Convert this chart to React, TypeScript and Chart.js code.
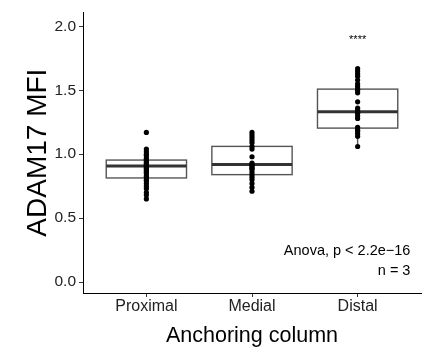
import React, { useEffect, useRef } from "react";
import { Chart, registerables } from "chart.js";

Chart.register(...registerables);

const categories = ["Proximal", "Medial", "Distal"];
const proximalValues = [1.17, 1.04, 1.02, 1.0, 0.99, 0.97, 0.96, 0.95, 0.94, 0.93, 0.92, 0.91, 0.9, 0.89, 0.88, 0.87, 0.86, 0.85, 0.83, 0.82, 0.8, 0.79, 0.77, 0.75, 0.73, 0.7, 0.68, 0.65];
const medialValues = [1.17, 1.15, 1.13, 1.11, 1.09, 1.06, 1.04, 0.98, 0.93, 0.92, 0.91, 0.9, 0.89, 0.88, 0.86, 0.84, 0.82, 0.8, 0.77, 0.74, 0.71];
const distalValues = [1.67, 1.65, 1.63, 1.61, 1.58, 1.55, 1.53, 1.51, 1.5, 1.48, 1.41, 1.36, 1.34, 1.33, 1.32, 1.3, 1.28, 1.21, 1.19, 1.18, 1.16, 1.14, 1.06];
const seriesValues = [proximalValues, medialValues, distalValues];

const boxQ1 = [0.814, 0.84, 1.204];
const boxMedian = [0.908, 0.919, 1.331];
const boxQ3 = [0.954, 1.061, 1.509];
const whiskerLow = [0.65, 0.71, 1.06];
const whiskerHigh = [1.04, 1.17, 1.67];

const yTickValues = [0, 0.5, 1, 1.5, 2];
const significanceLabel = "****";
const statLabels = ["Anova, p < 2.2e\u221216", "n = 3"];
const yTitle = "ADAM17 MFI";
const xTitle = "Anchoring column";

const FONT = "'Liberation Sans', Arial, Helvetica, sans-serif";

const boxPlugin = {
  id: "boxPlugin",
  beforeDatasetsDraw(chart: any) {
    const { ctx, scales } = chart;
    const x = scales.x;
    const y = scales.y;
    const half = 0.38;
    ctx.save();
    categories.forEach((_, i) => {
      const cx = x.getPixelForValue(i);
      const l = x.getPixelForValue(i - half);
      const r = x.getPixelForValue(i + half);
      const yq1 = y.getPixelForValue(boxQ1[i]);
      const yq3 = y.getPixelForValue(boxQ3[i]);
      const ym = y.getPixelForValue(boxMedian[i]);
      const ylo = y.getPixelForValue(whiskerLow[i]);
      const yhi = y.getPixelForValue(whiskerHigh[i]);
      ctx.strokeStyle = "#555555";
      ctx.lineWidth = 1.4;
      ctx.beginPath();
      ctx.moveTo(cx, yq3);
      ctx.lineTo(cx, yhi);
      ctx.moveTo(cx, yq1);
      ctx.lineTo(cx, ylo);
      ctx.stroke();
      ctx.strokeRect(l, yq3, r - l, yq1 - yq3);
      ctx.strokeStyle = "#333333";
      ctx.lineWidth = 3;
      ctx.beginPath();
      ctx.moveTo(l, ym);
      ctx.lineTo(r, ym);
      ctx.stroke();
    });
    ctx.restore();
  },
  afterDatasetsDraw(chart: any) {
    const { ctx, scales } = chart;
    const x = scales.x;
    const y = scales.y;
    ctx.save();
    ctx.fillStyle = "#000";
    ctx.font = `11px ${FONT}`;
    ctx.textAlign = "center";
    ctx.textBaseline = "middle";
    ctx.fillText(significanceLabel, x.getPixelForValue(2), y.getPixelForValue(1.89));
    ctx.font = `14.5px ${FONT}`;
    ctx.textAlign = "right";
    const rx = x.getPixelForValue(2.5);
    ctx.fillText(statLabels[0], rx, y.getPixelForValue(0.24));
    ctx.fillText(statLabels[1], rx, y.getPixelForValue(0.09));
    ctx.restore();
  },
};

export default function App() {
  const ref = useRef<HTMLCanvasElement | null>(null);
  useEffect(() => {
    if (!ref.current) return;
    const datasets = seriesValues.map((vals, i) => ({
      label: categories[i],
      data: vals.map((v) => ({ x: i, y: v })),
      backgroundColor: "#000",
      borderColor: "#000",
      borderWidth: 0,
      pointRadius: 2.6,
      pointHoverRadius: 2.6,
    }));
    const chart = new Chart(ref.current, {
      type: "scatter",
      data: { datasets },
      plugins: [boxPlugin],
      options: {
        animation: false,
        responsive: true,
        maintainAspectRatio: false,
        layout: { padding: { top: 5, right: 3, left: 0, bottom: 0 } },
        plugins: { legend: { display: false }, tooltip: { enabled: false } },
        scales: {
          x: {
            type: "linear",
            min: -0.6,
            max: 2.6,
            afterBuildTicks: (s: any) => {
              s.ticks = categories.map((_, i) => ({ value: i }));
            },
            afterFit: (s: any) => {
              s.height = 65;
            },
            ticks: {
              callback: (v: any) => categories[v] ?? "",
              color: "#222",
              font: { family: FONT, size: 16 },
              padding: 0,
              maxRotation: 0,
            },
            grid: { drawOnChartArea: false, drawTicks: true, tickLength: 4, color: "#333" },
            border: { display: true, color: "#000", width: 1 },
            title: {
              display: true,
              text: xTitle,
              color: "#000",
              font: { family: FONT, size: 21.5 },
              padding: { top: 0, bottom: 9 },
            },
          },
          y: {
            type: "linear",
            min: -0.086,
            max: 2.11,
            afterBuildTicks: (s: any) => {
              s.ticks = yTickValues.map((v) => ({ value: v }));
            },
            afterFit: (s: any) => {
              s.width = 83;
            },
            ticks: {
              callback: (v: any) => Number(v).toFixed(1),
              color: "#222",
              font: { family: FONT, size: 15.5 },
              padding: 3,
            },
            grid: { drawOnChartArea: false, drawTicks: true, tickLength: 4, color: "#333" },
            border: { display: true, color: "#000", width: 1 },
            title: {
              display: true,
              text: yTitle,
              color: "#000",
              font: { family: FONT, size: 28 },
              padding: { top: 21, bottom: 0 },
            },
          },
        },
      },
    } as any);
    return () => chart.destroy();
  }, []);
  return (
    <div style={{ position: "fixed", left: 0, top: 0, width: 424, height: 358, background: "#fff" }}>
      <canvas ref={ref} />
    </div>
  );
}
